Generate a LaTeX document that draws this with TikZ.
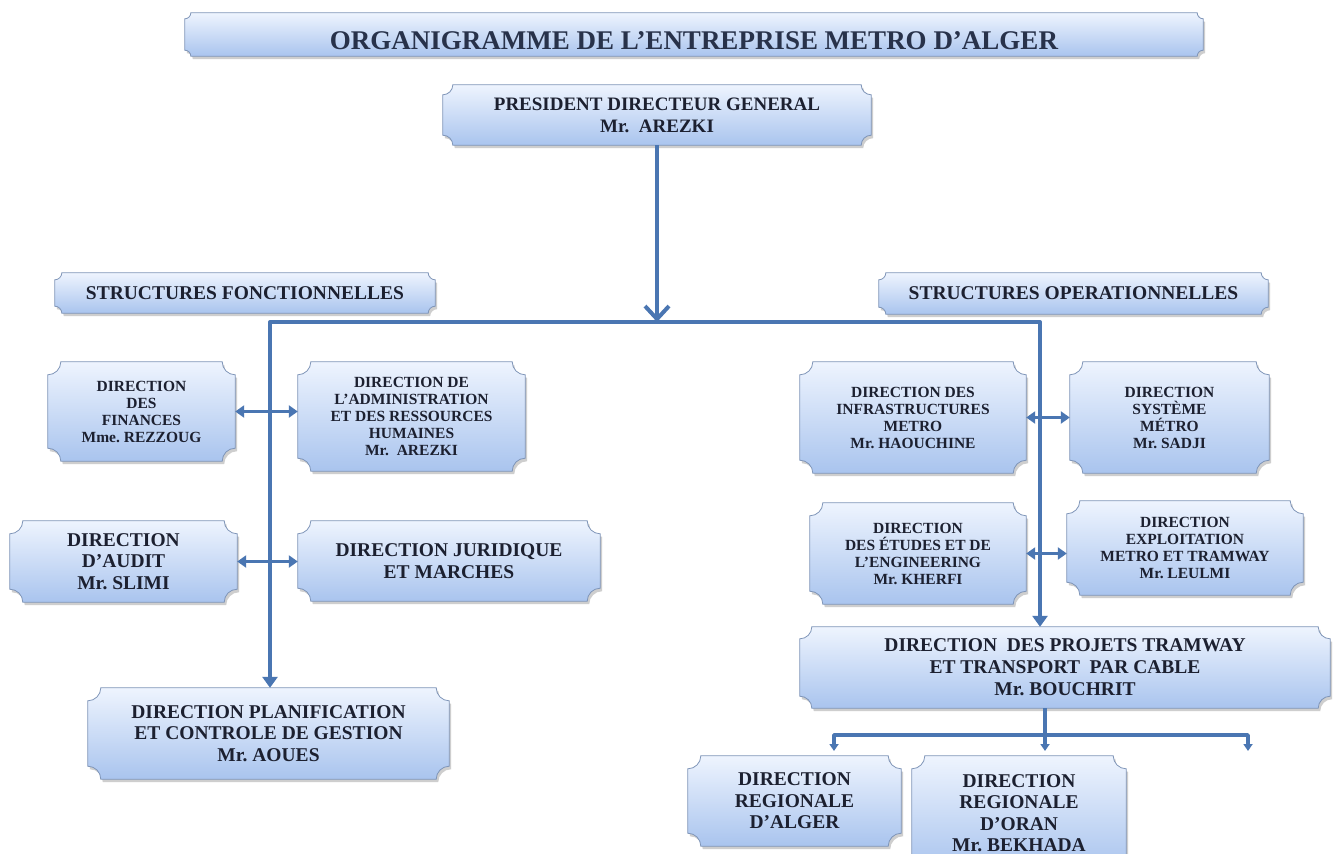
\documentclass[tikz,border=0pt]{standalone}
\usepackage{fontspec}
\setmainfont{Liberation Serif}
\usetikzlibrary{arrows.meta, shadows}
\definecolor{boxtop}{HTML}{EEF4FE}
\definecolor{boxbot}{HTML}{A9C4EE}
\definecolor{boxline}{HTML}{7F95B8}
\definecolor{linkblue}{HTML}{4A76B2}
\definecolor{textnavy}{HTML}{1C2030}
\definecolor{titlenavy}{HTML}{28324A}
\pgfdeclarelayer{bg}
\pgfsetlayers{bg,main}

% plaque outline with concave corners around a node
\newcommand{\plaque}[2]{%
  \path[plaquefill]
    ([xshift=#2pt]#1.north west) -- ([xshift=-#2pt]#1.north east)
    arc[start angle=180, end angle=270, radius=#2pt]
    -- ([yshift=#2pt]#1.south east)
    arc[start angle=90, end angle=180, radius=#2pt]
    -- ([xshift=#2pt]#1.south west)
    arc[start angle=0, end angle=90, radius=#2pt]
    -- ([yshift=-#2pt]#1.north west)
    arc[start angle=-90, end angle=0, radius=#2pt]
    -- cycle;
}

\tikzset{
  plaquefill/.style={top color=boxtop, bottom color=boxbot, draw=boxline, line width=0.8pt,
    drop shadow={shadow xshift=2pt, shadow yshift=-3pt, fill=black!55, opacity=0.35}},
  orgbox/.style={inner sep=0pt, align=center, text=textnavy, font=\bfseries\fontsize{19.5}{21.5}\selectfont},
  smallorgbox/.style={orgbox, font=\bfseries\fontsize{15.5}{17}\selectfont},
  conn/.style={draw=linkblue, line width=4pt, line join=round},
  thinconn/.style={conn, line width=3.5pt}
}

\begin{document}
\frenchspacing
\begin{tikzpicture}[x=1pt, y=-1pt]
    \useasboundingbox (0,0) rectangle (1336,854);

    % Title and head of the company
    \node[orgbox, minimum width=1018pt, minimum height=43pt, text height=29pt, text depth=0pt, text=titlenavy, font=\bfseries\fontsize{27}{30}\selectfont] (title) at (694,34.5) {ORGANIGRAMME DE L'ENTREPRISE METRO D'ALGER};
    \node[orgbox, minimum width=428pt, minimum height=60pt, font=\bfseries\fontsize{19}{22}\selectfont] (pdg) at (657,115) {PRESIDENT DIRECTEUR GENERAL\\Mr.\ \ AREZKI};

    % Two groups of structures
    \node[orgbox, minimum width=380pt, minimum height=40pt] (sf) at (245,293) {STRUCTURES FONCTIONNELLES};
    \node[orgbox, minimum width=389pt, minimum height=41pt] (so) at (1073.5,293.5) {STRUCTURES OPERATIONNELLES};

    % Functional side
    \node[smallorgbox, minimum width=187pt, minimum height=99pt] (fin) at (141.5,411.5) {DIRECTION\\DES\\FINANCES\\Mme.\ REZZOUG};
    \node[smallorgbox, minimum width=227pt, minimum height=109pt] (adm) at (411.5,416.5) {DIRECTION DE\\L'ADMINISTRATION\\ET DES RESSOURCES\\HUMAINES\\Mr.\ \ AREZKI};
    \node[orgbox, minimum width=227pt, minimum height=81pt] (aud) at (123.5,561.5) {DIRECTION\\D'AUDIT\\Mr.\ SLIMI};
    \node[orgbox, minimum width=302pt, minimum height=80pt] (jur) at (449,561) {DIRECTION JURIDIQUE\\ET MARCHES};
    \node[orgbox, minimum width=361pt, minimum height=91pt] (dpcg) at (268.5,733.5) {DIRECTION PLANIFICATION\\ET CONTROLE DE GESTION\\Mr.\ AOUES};

    % Operational side
    \node[smallorgbox, minimum width=226pt, minimum height=111pt] (inf) at (913,417.5) {DIRECTION DES\\INFRASTRUCTURES\\METRO\\Mr.\ HAOUCHINE};
    \node[smallorgbox, minimum width=199pt, minimum height=111pt] (sys) at (1169.5,417.5) {DIRECTION\\SYSTÈME\\MÉTRO\\Mr.\ SADJI};
    \node[smallorgbox, minimum width=216pt, minimum height=101pt] (etu) at (918,553.5) {DIRECTION\\DES ÉTUDES ET DE\\L'ENGINEERING\\Mr.\ KHERFI};
    \node[smallorgbox, minimum width=236pt, minimum height=94pt] (exp) at (1185,548) {DIRECTION\\EXPLOITATION\\METRO ET TRAMWAY\\Mr.\ LEULMI};
    \node[orgbox, minimum width=530pt, minimum height=81pt, font=\bfseries\fontsize{19.5}{22}\selectfont] (dpttc) at (1065,667.5) {DIRECTION\ \ DES PROJETS TRAMWAY\\ET TRANSPORT\ \ PAR CABLE\\Mr.\ BOUCHRIT};
    \node[orgbox, minimum width=213pt, minimum height=90pt] (alg) at (794.5,801) {DIRECTION\\REGIONALE\\D'ALGER};
    \node[orgbox, minimum width=214pt, minimum height=114pt] (ora) at (1019,813) {DIRECTION\\REGIONALE\\D'ORAN\\Mr.\ BEKHADA};

    % Draw the plaques behind the texts
    \begin{pgfonlayer}{bg}
    \fill[white] (0,0) rectangle (1336,854);
    \foreach \n/\rad in {title/6, pdg/10, sf/7, so/7, fin/13, adm/13, aud/13, jur/13, dpcg/13, inf/13, sys/13, etu/13, exp/13, dpttc/12, alg/13, ora/13}
        {\plaque{\n}{\rad}}
    \end{pgfonlayer}

    % Points of the main bar and of the regional branch
    \coordinate (barL) at (270,322);
    \coordinate (barR) at (1040,322);
    \coordinate (brL) at (834,735);
    \coordinate (brM) at (1045,735);
    \coordinate (brR) at (1248,735);
    \coordinate (brLend) at (834,751);
    \coordinate (brMend) at (1045,751);
    \coordinate (brRend) at (1248,751);

    % Draw the president line down to the main bar
    \draw[conn, -{Straight Barb[length=13pt, width=24pt]}] (pdg.south) -- (pdg.south |- barL);
    % Draw the main bar with its two branches
    \draw[conn, {Triangle[length=11pt, width=15pt]}-{Triangle[length=11pt, width=15pt]}] (barL |- dpcg.north) -- (barL) -- (barR) -- (barR |- dpttc.north);

    % Draw the double arrows between neighbour boxes
    \draw[thinconn, {Triangle[length=9pt, width=12pt]}-{Triangle[length=9pt, width=12pt]}] (fin.east) -- (fin.east -| adm.west);
    \draw[thinconn, {Triangle[length=9pt, width=12pt]}-{Triangle[length=9pt, width=12pt]}] (aud.east) -- (aud.east -| jur.west);
    \draw[thinconn, {Triangle[length=9pt, width=12pt]}-{Triangle[length=9pt, width=12pt]}] (inf.east) -- (inf.east -| sys.west);
    \draw[thinconn, {Triangle[length=9pt, width=12pt]}-{Triangle[length=9pt, width=12pt]}] (etu.east) -- (etu.east -| exp.west);

    % Draw the regional branch
    \draw[thinconn, -{Triangle[length=7pt, width=9pt]}] (dpttc.south -| brM) -- (brMend);
    \draw[thinconn, {Triangle[length=7pt, width=9pt]}-{Triangle[length=7pt, width=9pt]}] (brLend) -- (brL) -- (brR) -- (brRend);
\end{tikzpicture}
\end{document}
